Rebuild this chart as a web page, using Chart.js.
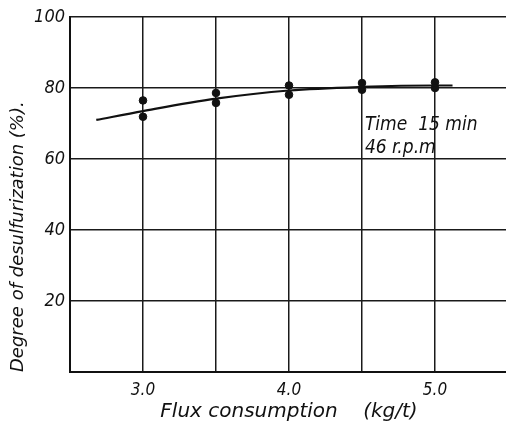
<!DOCTYPE html>
<html>
<head>
<meta charset="utf-8">
<script src="https://cdn.jsdelivr.net/npm/chart.js@4.4.1/dist/chart.umd.min.js"></script>
<style>
  html, body { margin: 0; padding: 0; background: #fff; overflow: hidden; }
</style>
</head>
<body>
<canvas id="chart" width="516" height="430"></canvas>
<script>
// measured points, two runs per flux amount
const fluxValues = [3.0, 3.0, 3.5, 3.5, 4.0, 4.0, 4.5, 4.5, 5.0, 5.0];
const desulfValues = [76.5, 71.9, 78.6, 75.8, 80.7, 78.1, 81.4, 79.5, 81.6, 80.0];

// hand-drawn trend curve
const curveFlux = [2.68, 3.0, 3.5, 4.0, 4.5, 5.0, 5.12];
const curveDesulf = [71.0, 73.5, 77.0, 79.3, 80.3, 80.7, 80.7];

const xTickLabels = [3.0, 4.0, 5.0];
const noteLines = ["Time  15 min", "46 r.p.m"];

const condFont = "'DejaVu Sans Condensed', 'DejaVu Sans', sans-serif";

// writes the "Time / rpm" note inside the plot
const notePlugin = {
  id: "note",
  afterDatasetsDraw(chart) {
    const { ctx, scales } = chart;
    const x = scales.x.getPixelForValue(4.52);
    ctx.save();
    ctx.fillStyle = "#111";
    ctx.font = "italic 19px " + condFont;
    ctx.textBaseline = "alphabetic";
    ctx.fillText(noteLines[0], x, scales.y.getPixelForValue(68.2));
    ctx.fillText(noteLines[1], x, scales.y.getPixelForValue(61.8));
    ctx.restore();
  }
};

new Chart(document.getElementById("chart").getContext("2d"), {
  type: "scatter",
  data: {
    datasets: [
      {
        label: "Trend",
        type: "line",
        data: curveFlux.map((x, i) => ({ x: x, y: curveDesulf[i] })),
        borderColor: "#111",
        borderWidth: 2.2,
        pointRadius: 0,
        tension: 0.4,
        cubicInterpolationMode: "monotone",
        fill: false
      },
      {
        label: "Measured",
        data: fluxValues.map((x, i) => ({ x: x, y: desulfValues[i] })),
        backgroundColor: "#111",
        borderColor: "#111",
        pointRadius: 3.8
      }
    ]
  },
  options: {
    responsive: false,
    animation: false,
    layout: { padding: { top: 17, right: 0, left: 0, bottom: 0 } },
    plugins: { legend: { display: false }, tooltip: { enabled: false } },
    scales: {
      x: {
        type: "linear",
        min: 2.5,
        max: 5.5,
        afterFit: s => { s.height = 58; },
        grid: {
          // plot runs off the right edge in the scan, so no closing line
          color: c => (c.tick && c.tick.value === 5.5) ? "rgba(0,0,0,0)" : "#1a1a1a",
          lineWidth: 1.5,
          drawTicks: false
        },
        border: { color: "#111", width: 2 },
        ticks: {
          stepSize: 0.5,
          autoSkip: false,
          maxRotation: 0,
          padding: 8,
          color: "#111",
          font: { family: condFont, size: 17, style: "italic" },
          callback: v => xTickLabels.some(t => Math.abs(t - v) < 1e-6) ? v.toFixed(1) : ""
        },
        title: {
          display: true,
          text: "Flux consumption    (kg/t)",
          color: "#111",
          font: { family: "'DejaVu Sans', sans-serif", size: 20, style: "italic" },
          padding: { top: 0, bottom: 6 }
        }
      },
      y: {
        min: 0,
        max: 100,
        afterFit: s => { s.width = 70; },
        grid: { color: "#1a1a1a", lineWidth: 1.5, drawTicks: false },
        border: { color: "#111", width: 2 },
        ticks: {
          stepSize: 20,
          padding: 5,
          color: "#111",
          font: { family: condFont, size: 18, style: "italic" },
          callback: v => v === 0 ? "" : v
        },
        title: {
          display: true,
          text: "Degree of desulfurization (%).",
          align: "start",
          color: "#111",
          font: { family: "'DejaVu Sans', sans-serif", size: 18, style: "italic" },
          padding: { top: 8, bottom: 0 }
        }
      }
    }
  },
  plugins: [notePlugin]
});
</script>
</body>
</html>
